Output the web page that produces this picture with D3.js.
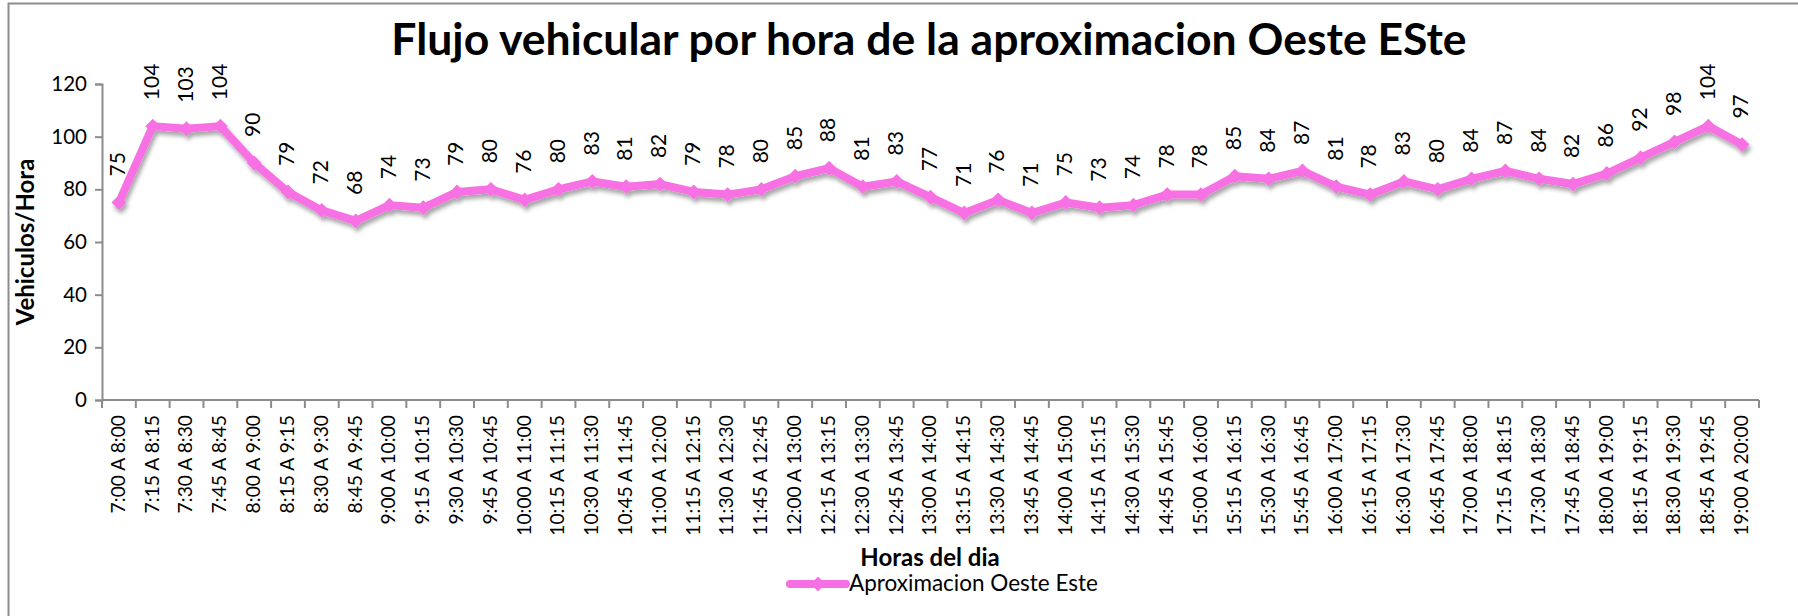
<!DOCTYPE html>
<html>
<head>
<meta charset="utf-8">
<script src="https://cdn.jsdelivr.net/npm/d3@7"></script>
<style>
  html, body { margin: 0; padding: 0; background: #fff; }
  svg { display: block; font-family: Lato, "Open Sans", sans-serif; }
</style>
</head>
<body>
<div id="chart"></div>
<script>
const chartTitle = "Flujo vehicular por hora de la aproximacion Oeste ESte";
const yTitle = "Vehiculos/Hora";
const xTitle = "Horas del dia";
const seriesName = "Aproximacion Oeste Este";

const categories = [
  "7:00 A 8:00", "7:15 A 8:15", "7:30 A 8:30", "7:45 A 8:45", "8:00 A 9:00",
  "8:15 A 9:15", "8:30 A 9:30", "8:45 A 9:45", "9:00 A 10:00", "9:15 A 10:15",
  "9:30 A 10:30", "9:45 A 10:45", "10:00 A 11:00", "10:15 A 11:15", "10:30 A 11:30",
  "10:45 A 11:45", "11:00 A 12:00", "11:15 A 12:15", "11:30 A 12:30", "11:45 A 12:45",
  "12:00 A 13:00", "12:15 A 13:15", "12:30 A 13:30", "12:45 A 13:45", "13:00 A 14:00",
  "13:15 A 14:15", "13:30 A 14:30", "13:45 A 14:45", "14:00 A 15:00", "14:15 A 15:15",
  "14:30 A 15:30", "14:45 A 15:45", "15:00 A 16:00", "15:15 A 16:15", "15:30 A 16:30",
  "15:45 A 16:45", "16:00 A 17:00", "16:15 A 17:15", "16:30 A 17:30", "16:45 A 17:45",
  "17:00 A 18:00", "17:15 A 18:15", "17:30 A 18:30", "17:45 A 18:45", "18:00 A 19:00",
  "18:15 A 19:15", "18:30 A 19:30", "18:45 A 19:45", "19:00 A 20:00"
];

const vehicles = [
  75, 104, 103, 104, 90, 79, 72, 68, 74, 73,
  79, 80, 76, 80, 83, 81, 82, 79, 78, 80,
  85, 88, 81, 83, 77, 71, 76, 71, 75, 73,
  74, 78, 78, 85, 84, 87, 81, 78, 83, 80,
  84, 87, 84, 82, 86, 92, 98, 104, 97
];

const yTicks = [0, 20, 40, 60, 80, 100, 120];

const width = 1798, height = 616;
const margin = { top: 84, right: 39, bottom: 216, left: 102 };
const lineColor = "#f76fe4";
const axisColor = "#8c8c8c";

const svg = d3.select("#chart").append("svg")
  .attr("width", width)
  .attr("height", height);

svg.append("rect")
  .attr("width", width).attr("height", height)
  .attr("fill", "#fff");

// chart area border (cropped on right/bottom in the original)
svg.append("path")
  .attr("d", `M8.5,${height + 2} V3.5 H${width + 2}`)
  .attr("fill", "none")
  .attr("stroke", axisColor)
  .attr("stroke-width", 2);

const defs = svg.append("defs");
const shadow = defs.append("filter")
  .attr("id", "shadow")
  .attr("x", "-10%").attr("y", "-50%")
  .attr("width", "120%").attr("height", "200%");
shadow.append("feDropShadow")
  .attr("dx", 2).attr("dy", 4)
  .attr("stdDeviation", 2.2)
  .attr("flood-color", "#000")
  .attr("flood-opacity", 0.35);

const x = d3.scaleBand()
  .domain(categories)
  .range([margin.left, width - margin.right]);

const y = d3.scaleLinear()
  .domain([0, 120])
  .range([height - margin.bottom, margin.top]);

const cx = d => x(d) + x.bandwidth() / 2;

// y axis
const yAxis = svg.append("g")
  .attr("transform", `translate(${margin.left},0)`)
  .call(d3.axisLeft(y).tickValues(yTicks).tickSize(7).tickPadding(8));
yAxis.select(".domain").attr("stroke", axisColor).attr("stroke-width", 2);
yAxis.selectAll(".tick line").attr("stroke", axisColor).attr("stroke-width", 2);
yAxis.selectAll(".tick text")
  .attr("font-size", 20.5)
  .attr("fill", "#000")
  .style("font-family", "Lato, sans-serif");

// x axis: ticks sit between categories
const xAxisG = svg.append("g")
  .attr("transform", `translate(0,${y(0)})`);
xAxisG.append("line")
  .attr("x1", margin.left).attr("x2", width - margin.right)
  .attr("stroke", axisColor).attr("stroke-width", 2);
const bounds = categories.map(c => x(c)).concat([x(categories[categories.length - 1]) + x.bandwidth()]);
xAxisG.selectAll("line.tk")
  .data(bounds)
  .join("line")
  .attr("class", "tk")
  .attr("x1", d => d).attr("x2", d => d)
  .attr("y1", 0).attr("y2", 8)
  .attr("stroke", axisColor).attr("stroke-width", 2);
xAxisG.selectAll("text")
  .data(categories)
  .join("text")
  .attr("transform", d => `translate(${cx(d) + 1},15) rotate(-90)`)
  .attr("text-anchor", "end")
  .attr("dominant-baseline", "middle")
  .attr("font-size", 19.3)
  .attr("fill", "#000")
  .text(d => d);

// line + markers
const pts = categories.map((c, i) => ({ c, v: vehicles[i] }));
const seriesG = svg.append("g").attr("filter", "url(#shadow)");
seriesG.append("path")
  .datum(pts)
  .attr("fill", "none")
  .attr("stroke", lineColor)
  .attr("stroke-width", 8)
  .attr("stroke-linejoin", "round")
  .attr("d", d3.line().x(d => cx(d.c)).y(d => y(d.v)));
seriesG.selectAll("path.mk")
  .data(pts)
  .join("path")
  .attr("class", "mk")
  .attr("transform", d => `translate(${cx(d.c)},${y(d.v)}) rotate(45)`)
  .attr("d", d3.symbol(d3.symbolSquare, 110))
  .attr("fill", lineColor);

// data labels
svg.append("g").selectAll("text")
  .data(pts)
  .join("text")
  .attr("transform", d => `translate(${cx(d.c) + 1},${y(d.v) - 26}) rotate(-90)`)
  .attr("text-anchor", "start")
  .attr("dominant-baseline", "middle")
  .attr("font-size", 21)
  .attr("fill", "#000")
  .text(d => d.v);

// titles
svg.append("text")
  .attr("x", 929).attr("y", 55)
  .attr("text-anchor", "middle")
  .attr("font-size", 44.5)
  .attr("font-weight", "bold")
  .text(chartTitle);

svg.append("text")
  .attr("transform", `translate(34,${(y(0) + y(120)) / 2}) rotate(-90)`)
  .attr("text-anchor", "middle")
  .attr("font-size", 24)
  .attr("font-weight", "bold")
  .text(yTitle);

svg.append("text")
  .attr("x", 930).attr("y", 566)
  .attr("text-anchor", "middle")
  .attr("font-size", 24)
  .attr("font-weight", "bold")
  .text(xTitle);

// legend
const lg = svg.append("g").attr("transform", "translate(790,584)");
lg.append("line")
  .attr("x1", 0).attr("x2", 56)
  .attr("stroke", lineColor).attr("stroke-width", 8)
  .attr("stroke-linecap", "round");
lg.append("path")
  .attr("transform", "translate(28,0) rotate(45)")
  .attr("d", d3.symbol(d3.symbolSquare, 110))
  .attr("fill", lineColor);
lg.append("text")
  .attr("x", 59).attr("y", 1)
  .attr("dominant-baseline", "middle")
  .attr("font-size", 22.5)
  .text(seriesName);
</script>
</body>
</html>
